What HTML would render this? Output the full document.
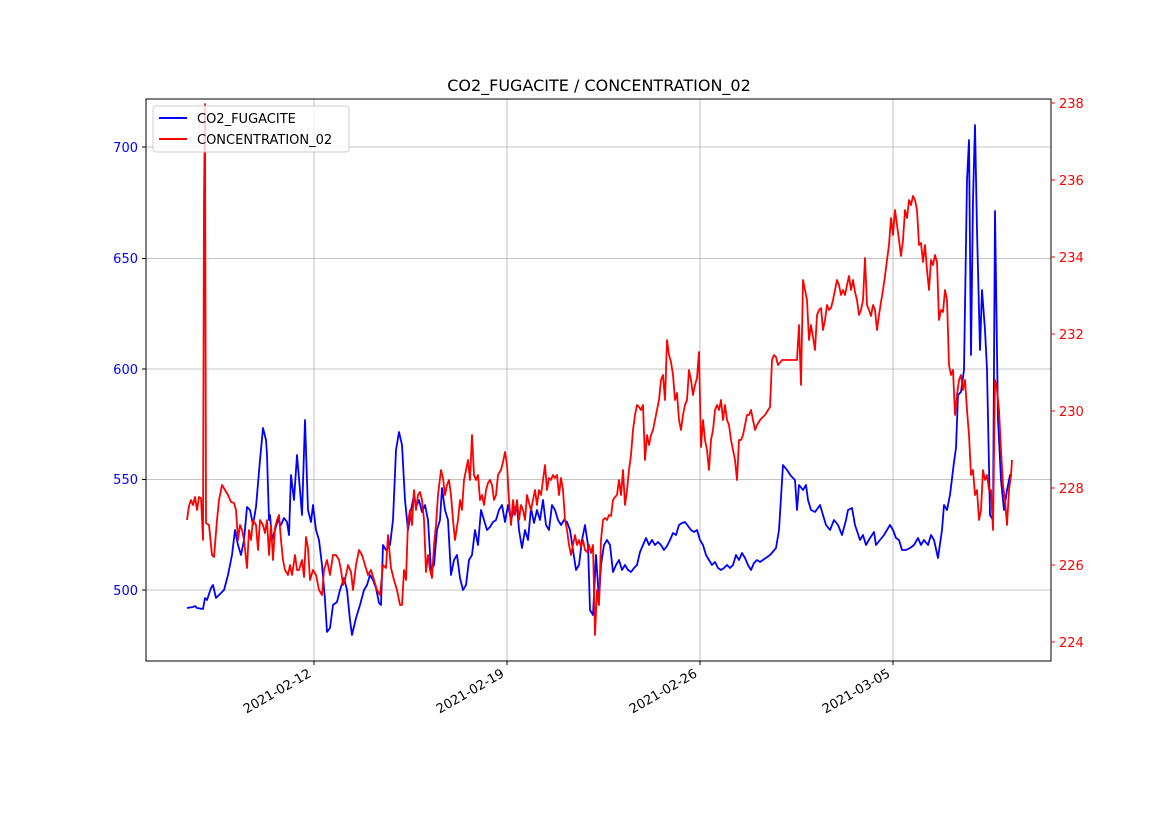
<!DOCTYPE html>
<html><head><meta charset="utf-8"><style>
html,body{margin:0;padding:0;background:#fff;}
svg{display:block;font-family:"DejaVu Sans","Liberation Sans",sans-serif;}
</style></head><body>
<svg width="1169" height="827" viewBox="0 0 1169 827" xmlns="http://www.w3.org/2000/svg">
<rect width="1169" height="827" fill="#fff"/>
<text x="599" y="91" font-size="16" text-anchor="middle" fill="#000">CO2_FUGACITE / CONCENTRATION_02</text>
<g stroke="#b0b0b0" stroke-width="0.8">
<line x1="314" y1="99" x2="314" y2="661"/><line x1="507" y1="99" x2="507" y2="661"/>
<line x1="700" y1="99" x2="700" y2="661"/><line x1="893" y1="99" x2="893" y2="661"/>
<line x1="146" y1="147" x2="1051" y2="147"/><line x1="146" y1="258.5" x2="1051" y2="258.5"/>
<line x1="146" y1="369" x2="1051" y2="369"/><line x1="146" y1="479.5" x2="1051" y2="479.5"/>
<line x1="146" y1="590" x2="1051" y2="590"/>
</g>
<polyline fill="none" stroke="#0000ff" stroke-width="1.8" stroke-linejoin="round" points="187,608 193,607 195,606 197,608 203,609 205,598 207,600 211,588 213,585 216,598 220,594 224,590 228,575 232,555 235,530 238,545 241,555 244,540 247,507 250,510 253,525 256,507 260,460 263,428 266,440 267,455 269,520 270,515 272,540 275,530 278,520 281,525 284,518 287,522 289,535 291,475 294,500 297,455 300,490 302,515 305,420 308,510 311,522 313,505 316,530 319,540 322,565 325,600 327,632 330,628 333,605 337,602 340,590 344,578 347,590 350,620 352,635 356,618 360,605 364,590 367,585 370,575 373,580 376,588 379,603 381,605 383,545 386,550 390,545 393,520 396,450 399,432 402,445 405,500 408,530 411,510 414,495 416,507 419,500 422,512 425,505 428,520 431,570 434,565 437,530 440,520 442,488 445,510 448,520 451,575 454,560 457,555 460,578 463,590 466,585 469,560 472,555 475,530 478,545 481,510 484,520 487,530 490,527 493,522 496,520 499,510 502,505 505,522 508,505 511,520 514,510 517,505 519,530 522,548 525,530 528,540 531,508 534,523 537,510 540,520 543,500 546,525 549,530 552,505 555,510 558,520 561,525 564,520 567,522 570,530 573,550 576,570 579,565 582,540 585,525 588,545 590,610 593,615 596,555 599,600 601,565 604,545 607,540 610,545 613,572 616,565 619,560 622,570 625,565 628,570 631,572 634,568 637,565 640,552 643,545 646,538 649,545 652,540 655,545 658,542 661,545 664,550 667,546 670,540 673,533 676,535 679,525 682,523 685,522 688,526 691,530 694,532 697,530 700,540 703,545 706,555 709,560 712,565 715,562 718,568 721,570 724,568 727,565 730,568 733,565 736,555 739,560 742,553 745,558 748,565 751,570 754,563 757,560 760,562 770,555 776,548 779,530 783,465 787,470 791,476 795,480 797,510 799,485 803,490 806,485 808,500 811,510 815,512 820,505 823,515 826,525 830,530 834,520 838,525 842,535 846,520 848,510 852,508 855,525 860,540 863,535 866,545 870,538 874,532 876,545 880,540 884,535 887,530 890,525 893,530 896,538 899,540 902,550 906,550 910,548 914,545 918,538 921,545 924,540 928,545 931,535 934,540 938,558 942,530 944,505 947,510 950,495 954,462 956,448 958,395 961,392 964,370 967,180 969,140 971,355 973,200 975,125 977,230 980,350 982,290 985,330 987,370 990,515 993,520 995,211 998,420 1001,480 1004,510 1007,490 1010,475 1012,475"/>
<polyline fill="none" stroke="#ff0000" stroke-width="1.8" stroke-linejoin="round" points="187,520 189,506 191,500 193,505 195,497 197,510 199,497 201,498 203,540 204,200 205,104 206,523 209,525 212,555 214,557 217,520 219,500 222,485 225,490 228,495 231,502 234,503 236,510 238,540 240,525 242,530 244,540 247,568 249,530 251,540 253,520 256,525 258,550 260,520 263,525 265,533 267,520 269,555 271,525 273,560 275,528 277,520 279,515 281,540 283,560 285,570 288,575 290,565 292,575 295,555 297,570 299,570 302,560 304,577 306,537 308,548 310,580 313,570 316,575 319,590 322,595 324,570 327,560 330,575 333,555 336,555 339,560 341,570 343,585 345,580 348,565 351,572 353,590 356,565 359,550 362,555 365,565 368,575 371,570 374,580 377,590 380,595 383,565 386,568 388,535 391,568 394,580 397,590 400,605 402,605 404,570 406,580 408,522 410,510 412,525 414,490 416,510 418,495 420,492 422,500 424,520 426,572 428,555 430,570 432,578 434,545 436,525 438,495 441,470 443,478 445,495 447,485 449,480 451,495 453,520 455,540 458,520 460,500 462,510 464,480 466,470 468,460 470,480 472,435 474,475 476,480 478,475 480,500 482,495 484,505 486,490 488,483 490,480 492,485 494,500 496,495 498,475 501,470 503,462 505,452 507,465 509,500 511,525 513,500 515,515 517,500 519,520 521,505 523,510 525,520 527,495 529,503 531,510 533,500 535,490 537,505 539,490 541,495 543,480 545,465 547,490 549,478 551,480 553,475 555,478 557,475 559,495 561,478 563,490 565,520 567,530 569,545 571,555 573,545 575,535 577,545 579,540 581,547 583,540 585,550 587,552 589,545 591,553 593,545 595,635 597,590 599,605 601,540 603,520 605,518 607,520 609,515 611,516 613,500 615,497 617,495 619,480 621,495 623,470 625,505 627,490 629,470 631,455 633,430 635,415 637,405 639,407 641,410 643,405 645,460 647,435 649,445 651,435 653,430 655,420 657,410 659,400 661,380 663,375 665,400 667,340 669,355 671,362 673,375 675,400 677,393 679,420 681,430 683,415 685,405 687,400 689,370 691,380 693,395 695,385 697,378 699,352 701,447 703,420 705,440 707,450 709,470 711,440 713,430 715,410 717,405 719,410 721,400 723,420 725,405 727,420 729,425 731,440 733,450 735,460 737,480 739,440 741,440 743,435 745,425 747,415 749,415 751,410 753,420 755,430 757,425 760,420 765,415 770,407 772,360 774,355 776,357 778,365 782,360 792,360 797,360 799,325 801,385 803,280 805,290 807,300 809,340 811,325 813,337 815,350 817,315 819,310 821,308 823,330 825,320 827,305 829,310 831,308 833,300 835,290 837,280 839,285 841,295 843,290 845,295 847,285 849,276 851,290 853,280 855,292 857,300 859,315 861,310 863,300 865,258 867,305 869,310 871,316 873,305 875,310 877,330 879,315 881,302 883,290 885,276 887,260 889,245 891,218 893,235 895,210 897,225 899,240 901,256 903,240 905,210 907,218 909,200 911,205 913,196 915,200 917,210 919,245 921,243 923,262 925,245 927,270 929,290 931,260 933,265 935,255 937,262 939,320 941,310 943,312 945,290 947,300 949,365 951,375 953,370 955,415 957,395 959,380 961,375 963,390 965,380 967,410 969,435 971,475 973,470 975,495 977,490 979,520 981,510 983,470 985,480 987,475 989,490 991,490 993,530 995,380 997,390 999,410 1001,450 1003,485 1005,500 1007,525 1009,490 1011,475 1012,460"/>
<rect x="146" y="99" width="905" height="562" fill="none" stroke="#000" stroke-width="1"/>
<g stroke="#000" stroke-width="1">
<line x1="314" y1="661" x2="314" y2="665"/><line x1="507" y1="661" x2="507" y2="665"/>
<line x1="700" y1="661" x2="700" y2="665"/><line x1="893" y1="661" x2="893" y2="665"/>
<line x1="142" y1="147" x2="146" y2="147"/><line x1="142" y1="258.5" x2="146" y2="258.5"/>
<line x1="142" y1="369" x2="146" y2="369"/><line x1="142" y1="479.5" x2="146" y2="479.5"/>
<line x1="142" y1="590" x2="146" y2="590"/>
</g>
<g stroke="#ff0000" stroke-width="1">
<line x1="1051" y1="103" x2="1055" y2="103"/><line x1="1051" y1="180" x2="1055" y2="180"/>
<line x1="1051" y1="257" x2="1055" y2="257"/><line x1="1051" y1="334" x2="1055" y2="334"/>
<line x1="1051" y1="411" x2="1055" y2="411"/><line x1="1051" y1="488" x2="1055" y2="488"/>
<line x1="1051" y1="565" x2="1055" y2="565"/><line x1="1051" y1="642" x2="1055" y2="642"/>
</g>
<g font-size="13" fill="#0000ff" text-anchor="end">
<text x="138" y="152">700</text><text x="138" y="263">650</text><text x="138" y="374">600</text>
<text x="138" y="484">550</text><text x="138" y="595">500</text>
</g>
<g font-size="13" fill="#ff0000">
<text x="1059" y="108">238</text><text x="1059" y="185">236</text><text x="1059" y="262">234</text>
<text x="1059" y="339">232</text><text x="1059" y="416">230</text><text x="1059" y="493">228</text>
<text x="1059" y="570">226</text><text x="1059" y="647">224</text>
</g>
<g font-size="13" fill="#000" text-anchor="end">
<text transform="translate(312,676) rotate(-30)">2021-02-12</text>
<text transform="translate(505,676) rotate(-30)">2021-02-19</text>
<text transform="translate(698,676) rotate(-30)">2021-02-26</text>
<text transform="translate(891,676) rotate(-30)">2021-03-05</text>
</g>
<rect x="153" y="106" width="196" height="46" rx="3" fill="#fff" fill-opacity="0.8" stroke="#ccc"/>
<line x1="159" y1="118" x2="187" y2="118" stroke="#0000ff" stroke-width="2"/>
<line x1="159" y1="139" x2="187" y2="139" stroke="#ff0000" stroke-width="2"/>
<g font-size="13" fill="#000">
<text x="197" y="123">CO2_FUGACITE</text>
<text x="197" y="144">CONCENTRATION_02</text>
</g>
</svg>
</body></html>
